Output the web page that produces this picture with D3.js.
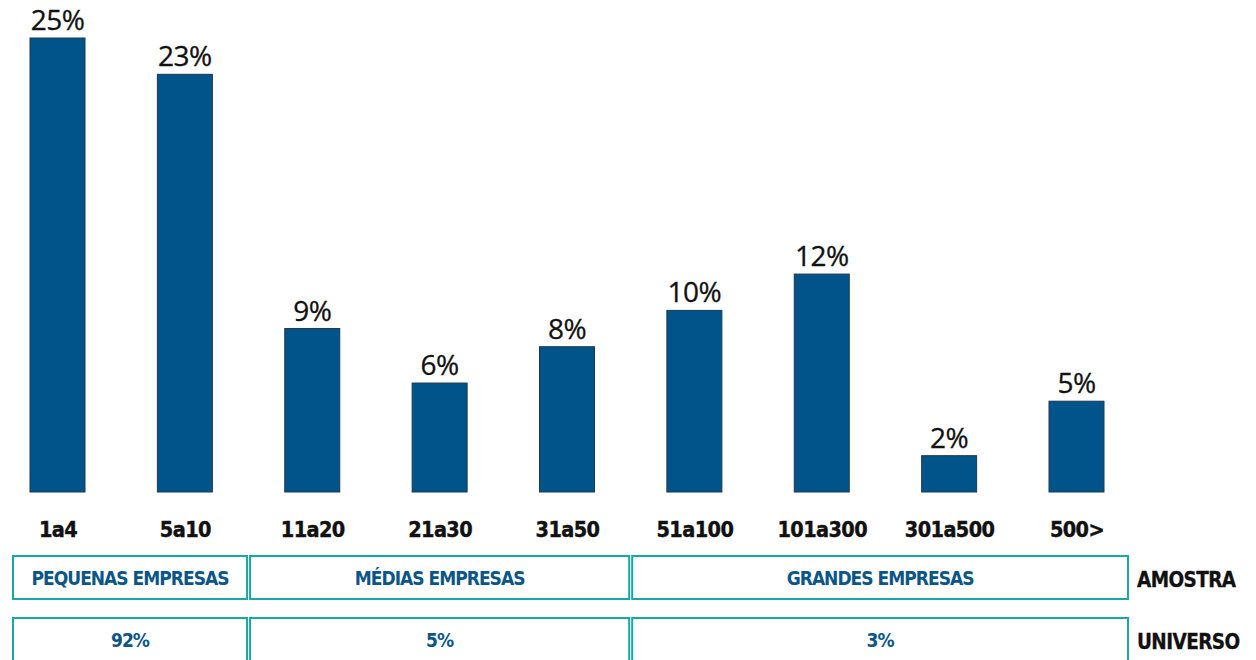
<!DOCTYPE html>
<html>
<head>
<meta charset="utf-8">
<script src="https://cdn.jsdelivr.net/npm/d3@7"></script>
<style>
  html, body { margin: 0; padding: 0; background: #fff; }
  svg { display: block; }
  .cat { font-family: "DejaVu Sans Condensed", "Liberation Sans Narrow", sans-serif; font-weight: bold; font-size: 21.5px; fill: #111; letter-spacing: -0.6px; stroke: #111; stroke-width: 0.4px; }
  .val { font-family: "Open Sans", "Noto Sans", sans-serif; font-size: 28px; fill: #111; letter-spacing: -0.5px; stroke: #111; stroke-width: 0.3px; }
  .grp { font-family: "DejaVu Sans Condensed", sans-serif; font-weight: bold; font-size: 19px; fill: #0b5688; letter-spacing: -1px; }
  .row { font-family: "DejaVu Sans Condensed", sans-serif; font-weight: bold; font-size: 20.5px; fill: #111; letter-spacing: -0.6px; stroke: #111; stroke-width: 0.3px; }
</style>
</head>
<body>
<svg id="chart" width="1256" height="660"></svg>
<script>
// faixas de porte (nº de funcionários) e % da amostra
const categories = ["1a4", "5a10", "11a20", "21a30", "31a50", "51a100", "101a300", "301a500", "500>"];
const values = [25, 23, 9, 6, 8, 10, 12, 2, 5];

// grupos de porte
const groupNames = ["PEQUENAS EMPRESAS", "MÉDIAS EMPRESAS", "GRANDES EMPRESAS"];
const groupMembers = [["1a4", "5a10"], ["11a20", "21a30", "31a50"], ["51a100", "101a300", "301a500", "500>"]];
const universo = ["92%", "5%", "3%"];
const rowLabels = ["AMOSTRA", "UNIVERSO"];

const svg = d3.select("#chart");

const x = d3.scalePoint().domain(categories).range([57.5, 1076.5]);
const y = d3.scaleLinear().domain([0, 25]).range([492, 38]);
const barW = 55;

// barras
svg.append("g")
  .selectAll("rect")
  .data(values)
  .join("rect")
  .attr("x", (d, i) => x(categories[i]) - barW / 2)
  .attr("y", d => y(d))
  .attr("width", barW)
  .attr("height", d => y(0) - y(d))
  .attr("fill", "#00548a")
  .attr("stroke", "#1c3850")
  .attr("stroke-width", 1);

// rótulos de valor
svg.append("g")
  .selectAll("text")
  .data(values)
  .join("text")
  .attr("class", "val")
  .attr("x", (d, i) => x(categories[i]))
  .attr("y", d => y(d) - 8)
  .attr("text-anchor", "middle")
  .text(d => d + "%");

// eixo x (só os textos)
const xAxis = svg.append("g")
  .attr("transform", `translate(0, ${y(0)})`)
  .call(d3.axisBottom(x).tickSize(0).tickPadding(0));
xAxis.select(".domain").remove();
xAxis.selectAll("text")
  .attr("class", "cat")
  .attr("dy", null)
  .attr("y", 45)
  .attr("fill", null);

// caixas de grupo
const step = x.step();
const boxes = groupMembers.map((m, i) => {
  const first = x(m[0]), last = x(m[m.length - 1]);
  const left = i === 0 ? first - 44.5 : first - step / 2 + 1.5;
  const right = i === groupMembers.length - 1 ? last + 51.5 : last + step / 2 - 1.5;
  return { left, right, name: groupNames[i], uni: universo[i] };
});

const rows = [
  { y: 556, h: 43, key: "name", label: rowLabels[0] },
  { y: 618, h: 60, key: "uni", label: rowLabels[1] }
];

rows.forEach(r => {
  const g = svg.append("g");
  g.selectAll("rect")
    .data(boxes)
    .join("rect")
    .attr("x", d => d.left)
    .attr("y", r.y)
    .attr("width", d => d.right - d.left)
    .attr("height", r.h)
    .attr("fill", "none")
    .attr("stroke", "#17a8a4")
    .attr("stroke-width", 2);
  g.selectAll("text")
    .data(boxes)
    .join("text")
    .attr("class", "grp")
    .attr("x", d => (d.left + d.right) / 2)
    .attr("y", r.y + 28.5)
    .attr("text-anchor", "middle")
    .text(d => d[r.key]);
  g.append("text")
    .attr("class", "row")
    .attr("x", 1137)
    .attr("y", r.y + 30.5)
    .text(r.label);
});
</script>
</body>
</html>
